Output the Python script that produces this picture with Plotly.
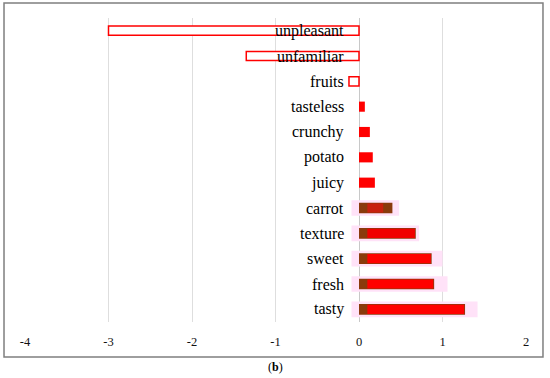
import plotly.graph_objects as go

categories = ["unpleasant", "unfamiliar", "fruits", "tasteless", "crunchy", "potato",
              "juicy", "carrot", "texture", "sweet", "fresh", "tasty"]
values = [-3.0, -1.35, -0.12, 0.07, 0.13, 0.165, 0.19, 0.40, 0.68, 0.87, 0.90, 1.27]

# split series for the last five categories
split_cats = ["carrot", "texture", "sweet", "fresh", "tasty"]
split_start = [0.1, 0.1, 0.1, 0.1, 0.1]
split_end = [0.29, 0.67, 0.86, 0.89, 1.26]
band_low = [-0.09, -0.09, -0.09, -0.09, -0.09]
band_high = [0.48, 0.72, 1.0, 1.06, 1.42]

x_ticks = [-4, -3, -2, -1, 0, 1, 2]

neg_cats = [c for c, v in zip(categories, values) if v < 0]
neg_vals = [v for v in values if v < 0]
pos_cats = [c for c, v in zip(categories, values) if v >= 0 and c not in split_cats]
pos_vals = [v for c, v in zip(categories, values) if v >= 0 and c not in split_cats]
split_vals = [values[categories.index(c)] for c in split_cats]

SERIF = "Liberation Serif, Times New Roman, serif"

fig = go.Figure()
fig.add_trace(go.Bar(y=split_cats, x=[h - l for h, l in zip(band_high, band_low)], base=band_low,
                     orientation="h", width=0.62, marker=dict(color="#ffe2f8", line=dict(width=0)),
                     hoverinfo="skip"))
fig.add_trace(go.Bar(y=neg_cats, x=neg_vals, orientation="h", width=0.36,
                     marker=dict(color="white", line=dict(color="#ff0000", width=1.5))))
fig.add_trace(go.Bar(y=pos_cats, x=pos_vals, orientation="h", width=0.4,
                     marker=dict(color="#ff0000", line=dict(width=0))))
fig.add_trace(go.Bar(y=split_cats, x=split_vals, orientation="h", width=0.42,
                     marker=dict(color="#8a3a0c", line=dict(width=0))))
fig.add_trace(go.Bar(y=split_cats, x=[e - s for e, s in zip(split_end, split_start)], base=split_start,
                     orientation="h", width=0.36,
                     marker=dict(color=["#c8200e", "#f00000", "#ff0000", "#ff0000", "#ff0000"],
                                 line=dict(width=0))))

for c in categories:
    fig.add_annotation(x=0, y=c, xref="x", yref="y", text=c, showarrow=False,
                       xanchor="right", xshift=-13,
                       font=dict(family=SERIF, size=16, color="#000"))

# frame and caption
fig.add_shape(type="rect", xref="paper", yref="paper", x0=-0.0419, x1=1.0339, y0=-0.1151, y1=1.0493,
              line=dict(color="#7f7f7f", width=1.5), fillcolor="rgba(0,0,0,0)", layer="below")
fig.add_annotation(xref="paper", yref="paper", x=(275 - 25) / 501, y=-0.148, text="(<b>b</b>)",
                   showarrow=False, yanchor="middle",
                   font=dict(family=SERIF, size=12, color="#000"))

fig.update_layout(
    width=550, height=378, barmode="overlay", showlegend=False,
    margin=dict(l=25, r=24, t=18, b=56, autoexpand=False),
    paper_bgcolor="white", plot_bgcolor="white",
    xaxis=dict(range=[-4, 2], tickvals=x_ticks, ticktext=[str(t) for t in x_ticks],
               showgrid=True, gridcolor="#dedede", gridwidth=1,
               zeroline=True, zerolinecolor="#c8c8c8", zerolinewidth=1,
               showline=False, ticks="", ticklabelstandoff=10,
               tickfont=dict(family=SERIF, size=12.5, color="#111")),
    yaxis=dict(categoryorder="array", categoryarray=categories,
               showticklabels=False, showgrid=False, zeroline=False, showline=False,
               range=[len(categories) - 0.5, -0.5]),
)

fig.write_html("out.html", config={"displayModeBar": False},
               post_script="document.body.style.margin='0';document.body.style.overflow='hidden';")
